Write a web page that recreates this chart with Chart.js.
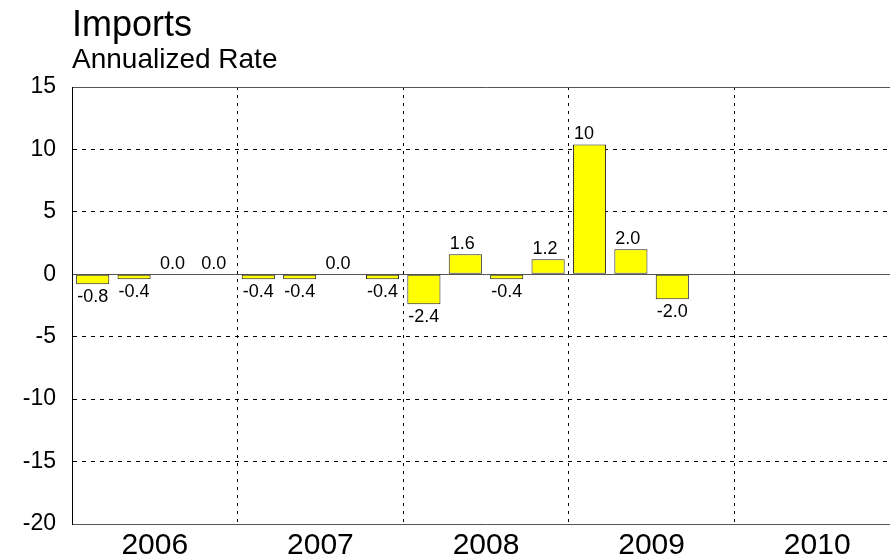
<!DOCTYPE html>
<html>
<head>
<meta charset="utf-8">
<script src="https://cdn.jsdelivr.net/npm/chart.js@4.4.1/dist/chart.umd.min.js"></script>
<style>
  html, body { margin: 0; padding: 0; background: #fff; overflow: hidden; }
  #wrap { width: 890px; height: 560px; overflow: hidden; }
</style>
</head>
<body>
<div id="wrap"><canvas id="myChart" width="900" height="568"></canvas></div>
<script>
// quarters shown on the hidden category axis
const quarters = [
    '2006Q1', '2006Q2', '2006Q3', '2006Q4',
    '2007Q1', '2007Q2', '2007Q3', '2007Q4',
    '2008Q1', '2008Q2', '2008Q3', '2008Q4',
    '2009Q1', '2009Q2', '2009Q3', '2009Q4',
    '2010Q1', '2010Q2', '2010Q3', '2010Q4'
];
// annualized rate per quarter (null = no data yet)
const rates = [
    -0.8, -0.4, 0.0, 0.0,
    -0.4, -0.4, 0.0, -0.4,
    -2.4, 1.6, -0.4, 1.2,
    10.4, 2.0, -2.0, null,
    null, null, null, null
];
const years = ['2006', '2007', '2008', '2009', '2010'];
const yTicks = [15, 10, 5, 0, -5, -10, -15, -20];

const FONT = 'Liberation Sans, Arial, sans-serif';

// value labels, left aligned on each bar
const barLabels = {
    id: 'barLabels',
    afterDatasetsDraw(chart) {
        const ctx = chart.ctx;
        const meta = chart.getDatasetMeta(0);
        const zero = chart.scales.y.getPixelForValue(0);
        ctx.save();
        ctx.font = '18px ' + FONT;
        ctx.fillStyle = '#000';
        ctx.textAlign = 'left';
        ctx.textBaseline = 'alphabetic';
        meta.data.forEach((bar, i) => {
            const v = rates[i];
            if (v === null || v === undefined) return;
            const p = bar.getProps(['x', 'y', 'width'], true);
            const txt = Math.abs(v) >= 10 ? v.toFixed(0) : v.toFixed(1);
            const x = p.x - p.width / 2 + 1;
            let y;
            if (v < 0) y = p.y + 18;
            else if (v === 0) y = zero - 5;
            else y = p.y - 5;
            ctx.fillText(txt, x, y);
        });
        ctx.restore();
    }
};

const solidLines = [15, 0, -20];

new Chart(document.getElementById('myChart'), {
    type: 'bar',
    data: {
        labels: quarters,
        datasets: [{
            data: rates,
            backgroundColor: '#ffff00',
            borderColor: '#222',
            borderWidth: 1,
            borderSkipped: false,
            barPercentage: 0.8,
            categoryPercentage: 1.0
        }]
    },
    options: {
        responsive: false,
        animation: false,
        devicePixelRatio: 1,
        layout: { padding: { left: 0, right: 0, top: 0, bottom: 0 } },
        scales: {
            x: {
                type: 'category',
                display: false,
                offset: true,
                grid: { display: false }
            },
            years: {
                type: 'category',
                labels: years,
                position: 'bottom',
                offset: true,
                grid: {
                    offset: true,
                    drawTicks: false,
                    lineWidth: 1,
                    color: (c) => (c.index === 0 ? 'rgba(0,0,0,0)' : '#000')
                },
                border: { display: false, dash: [3, 5] },
                ticks: {
                    color: '#000',
                    font: { family: FONT, size: 30, lineHeight: 1.2 },
                    padding: 4,
                    maxRotation: 0,
                    autoSkip: false
                }
            },
            y: {
                min: -20,
                max: 15,
                afterBuildTicks(scale) {
                    scale.ticks = yTicks.map(v => ({ value: v }));
                },
                afterFit(scale) {
                    scale.width = 72;
                },
                ticks: {
                    color: '#000',
                    font: { family: FONT, size: 23 },
                    padding: 16
                },
                grid: {
                    drawTicks: false,
                    lineWidth: 1,
                    color: (c) => (c.tick && solidLines.includes(c.tick.value) ? '#555' : '#000')
                },
                border: {
                    display: true,
                    color: '#000',
                    width: 1,
                    dash: (c) => (c.tick && solidLines.includes(c.tick.value) ? [] : [4, 5])
                }
            }
        },
        plugins: {
            legend: { display: false },
            tooltip: { enabled: false },
            title: {
                display: true,
                text: 'Imports',
                align: 'start',
                fullSize: false,
                color: '#000',
                font: { family: FONT, size: 36, weight: 'normal', lineHeight: 1.0 },
                padding: { top: 8, bottom: 0 }
            },
            subtitle: {
                display: true,
                text: 'Annualized Rate',
                align: 'start',
                fullSize: false,
                color: '#000',
                font: { family: FONT, size: 28, weight: 'normal', lineHeight: 1.0 },
                padding: { top: 2, bottom: 13 }
            }
        }
    },
    plugins: [barLabels]
});
</script>
</body>
</html>
